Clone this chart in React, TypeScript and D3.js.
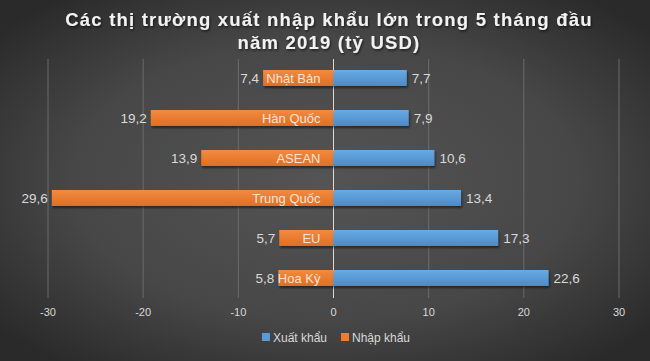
import React from "react";
import * as d3 from "d3";

const categories = ["Nhật Bản", "Hàn Quốc", "ASEAN", "Trung Quốc", "EU", "Hoa Kỳ"];
const exportValues = [7.7, 7.9, 10.6, 13.4, 17.3, 22.6];
const importValues = [7.4, 19.2, 13.9, 29.6, 5.7, 5.8];
const xTicks = [-30, -20, -10, 0, 10, 20, 30];
const seriesNames = ["Xuất khẩu", "Nhập khẩu"];
const titleLines = ["Các thị trường xuất nhập khẩu lớn trong 5 tháng đầu", "năm 2019 (tỷ USD)"];

const W = 650;
const H = 361;
const BLUE = "#5b9bd5";
const ORANGE = "#ed7d31";
const FONT = "'Liberation Sans', Arial, sans-serif";

const fmt = (v: number) => v.toFixed(1).replace(".", ",");

export default function App() {
  const x = d3.scaleLinear().domain([-30, 30]).range([48, 619]);
  const y = d3.scaleBand<string>().domain(categories).range([58, 298]).paddingInner(0.6).paddingOuter(0.3);
  const bh = y.bandwidth();
  const x0 = x(0);

  return (
    <svg width={W} height={H} style={{ position: "absolute", left: 0, top: 0, display: "block" }}>
      <defs>
        <radialGradient id="bg" cx="50%" cy="50%" r="65%">
          <stop offset="0%" stopColor="#545454" />
          <stop offset="60%" stopColor="#474747" />
          <stop offset="100%" stopColor="#2a2a2a" />
        </radialGradient>
        <linearGradient id="gb" x1="0" y1="0" x2="0" y2="1">
          <stop offset="0%" stopColor="#6aaae2" />
          <stop offset="100%" stopColor="#4a8bc8" />
        </linearGradient>
        <linearGradient id="go" x1="0" y1="0" x2="0" y2="1">
          <stop offset="0%" stopColor="#f28a40" />
          <stop offset="100%" stopColor="#e06f22" />
        </linearGradient>
        <filter id="sh" x="-10%" y="-30%" width="120%" height="180%">
          <feDropShadow dx="1" dy="2" stdDeviation="1.2" floodColor="#000" floodOpacity="0.5" />
        </filter>
        <filter id="tsh" x="-10%" y="-30%" width="120%" height="180%">
          <feDropShadow dx="1" dy="1.5" stdDeviation="1" floodColor="#000" floodOpacity="0.6" />
        </filter>
      </defs>
      <rect width={W} height={H} fill="url(#bg)" />

      {titleLines.map((t, i) => (
        <text key={i} x={329} y={26 + i * 23} textAnchor="middle" fill="#f2f2f2" fontFamily={FONT}
          fontWeight="bold" fontSize={18.5} letterSpacing={1.2} filter="url(#tsh)">{t}</text>
      ))}

      {xTicks.map((t) => (
        <line key={t} x1={x(t)} x2={x(t)} y1={59} y2={298} stroke={t === 0 ? "#d9d9d9" : "#6b6b6b"} strokeWidth={1} />
      ))}

      {categories.map((c, i) => {
        const yy = y(c)!;
        const xe = x(exportValues[i]);
        const xi = x(-importValues[i]);
        return (
          <g key={c}>
            <rect x={xi} y={yy} width={x0 - xi} height={bh} fill="url(#go)" filter="url(#sh)" />
            <rect x={x0} y={yy} width={xe - x0} height={bh} fill="url(#gb)" filter="url(#sh)" />
            <text x={x0 - 13} y={yy + bh / 2 + 4.5} textAnchor="end" fill="#f8e4d6" fontFamily={FONT} fontSize={13}>{c}</text>
            <text x={xi - 4} y={yy + bh / 2 + 5} textAnchor="end" fill="#d9d9d9" fontFamily={FONT} fontSize={13.5}>{fmt(importValues[i])}</text>
            <text x={xe + 5} y={yy + bh / 2 + 5} textAnchor="start" fill="#d9d9d9" fontFamily={FONT} fontSize={13.5}>{fmt(exportValues[i])}</text>
          </g>
        );
      })}

      {xTicks.map((t) => (
        <text key={t} x={x(t)} y={316} textAnchor="middle" fill="#d9d9d9" fontFamily={FONT} fontSize={11}>{t}</text>
      ))}

      <g fontFamily={FONT} fontSize={12} fill="#d9d9d9">
        <rect x={262} y={333} width={8} height={8} fill={BLUE} />
        <text x={273} y={342}>{seriesNames[0]}</text>
        <rect x={341} y={333} width={8} height={8} fill={ORANGE} />
        <text x={352} y={342}>{seriesNames[1]}</text>
      </g>
    </svg>
  );
}
